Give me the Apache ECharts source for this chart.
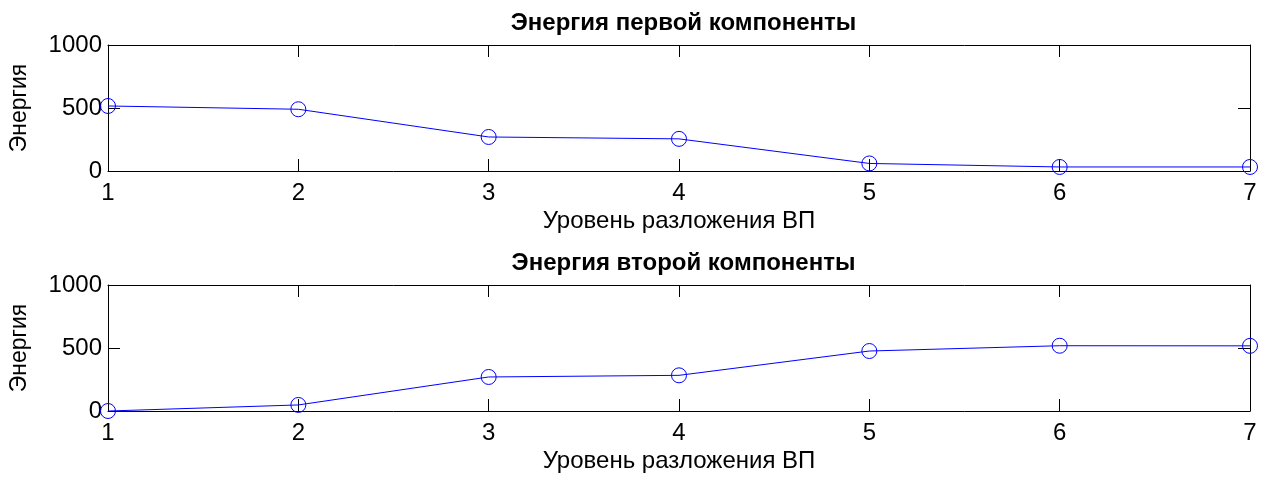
<!DOCTYPE html>
<html>
<head>
<meta charset="utf-8">
<script src="https://cdn.jsdelivr.net/npm/echarts@6/dist/echarts.min.js"></script>
<style>
  html, body { margin: 0; padding: 0; background: #fff; }
  #chart { width: 1269px; height: 479px; }
</style>
</head>
<body>
<div id="chart"></div>
<script>
// Decomposition levels of the signal
const levels = [1, 2, 3, 4, 5, 6, 7];
// Energy of the first component per level
const energyFirst = [516, 490, 270, 255, 60, 32, 32];
// Energy of the second component per level
const energySecond = [0, 48, 270, 283, 476, 518, 517];

const titles = ['Энергия первой компоненты', 'Энергия второй компоненты'];
const xName = 'Уровень разложения ВП';
const yName = 'Энергия';

const FONT = 'Liberation Sans, Arial, sans-serif';
const BLUE = '#0000ff';

const LEFT = 107, RIGHT = 19, WIDTH = 1269;
const grids = [
  { left: LEFT, right: RIGHT, top: 45, height: 126 },
  { left: LEFT, right: RIGHT, top: 285, height: 126 }
];
const centerX = LEFT + (WIDTH - LEFT - RIGHT) / 2;

const axisLine = { show: true, onZero: false, lineStyle: { color: '#000', width: 1 } };
const tick = { show: true, inside: true, length: 12, lineStyle: { color: '#000', width: 1 } };
const labelStyle = { color: '#000', fontFamily: FONT, fontSize: 24 };

const xAxes = [];
const yAxes = [];
grids.forEach((g, i) => {
  // bottom x-axis with labels
  xAxes.push({
    type: 'value', gridIndex: i, min: 1, max: 7, interval: 1, position: 'bottom',
    axisLine, axisTick: tick, splitLine: { show: false },
    axisLabel: Object.assign({ margin: 10, formatter: v => String(v) }, labelStyle),
    name: xName, nameLocation: 'middle', nameGap: 38,
    nameTextStyle: Object.assign({}, labelStyle)
  });
  // top x-axis (box edge + ticks)
  xAxes.push({
    type: 'value', gridIndex: i, min: 1, max: 7, interval: 1, position: 'top',
    axisLine, axisTick: tick, splitLine: { show: false }, axisLabel: { show: false }
  });
  // left y-axis with labels
  yAxes.push({
    type: 'value', gridIndex: i, min: 0, max: 1000, interval: 500, position: 'left',
    axisLine, axisTick: tick, splitLine: { show: false },
    axisLabel: Object.assign({ margin: 6, formatter: v => String(v) }, labelStyle),
    name: yName, nameLocation: 'middle', nameGap: 77, nameRotate: 90,
    nameTextStyle: Object.assign({}, labelStyle, { fontSize: 23 })
  });
  // right y-axis (box edge + ticks)
  yAxes.push({
    type: 'value', gridIndex: i, min: 0, max: 1000, interval: 500, position: 'right',
    axisLine, axisTick: tick, splitLine: { show: false }, axisLabel: { show: false }
  });
});

function makeSeries(values, idx) {
  return {
    type: 'line',
    xAxisIndex: idx * 2,
    yAxisIndex: idx * 2,
    data: levels.map((lv, k) => [lv, values[k]]),
    symbol: 'circle',
    symbolSize: 15,
    clip: false,
    lineStyle: { color: BLUE, width: 1 },
    itemStyle: { color: 'rgba(0,0,0,0)', borderColor: BLUE, borderWidth: 1 },
    emphasis: { disabled: true },
    z: 3
  };
}

const titleStyle = { fontFamily: FONT, fontSize: 24, fontWeight: 'bold', color: '#000' };

const chart = echarts.init(document.getElementById('chart'), null, { renderer: 'canvas' });
chart.setOption({
  animation: false,
  backgroundColor: '#fff',
  title: [
    { text: titles[0], left: centerX, textAlign: 'center', top: 6, textStyle: titleStyle },
    { text: titles[1], left: centerX, textAlign: 'center', top: 246, textStyle: titleStyle }
  ],
  grid: grids,
  xAxis: xAxes,
  yAxis: yAxes,
  series: [makeSeries(energyFirst, 0), makeSeries(energySecond, 1)]
});
</script>
</body>
</html>
